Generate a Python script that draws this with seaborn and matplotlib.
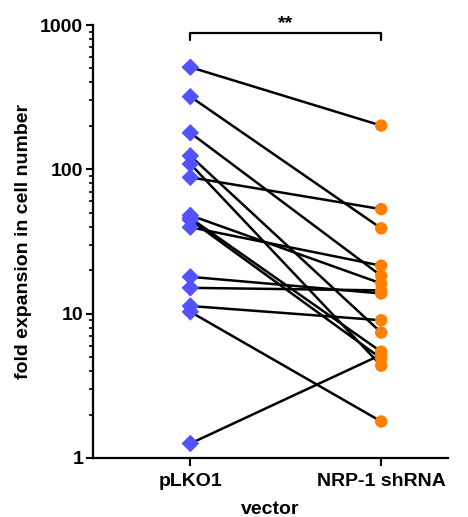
import numpy as np
import pandas as pd
import seaborn as sns
import matplotlib
matplotlib.use("Agg")
import matplotlib.pyplot as plt
from matplotlib.ticker import NullFormatter, LogLocator, FixedLocator, FixedFormatter

# paired values (fold expansion)
groups = ["pLKO1", "NRP-1 shRNA"]
plko1 = [510, 319, 179, 124, 109, 88, 48, 46, 44.6, 39.7, 18, 15.1, 11.3, 10.3, 1.26]
nrp1_shrna = [201, 39, 18.3, 7.4, 4.36, 53, 16.2, 5.45, 4.9, 21.5, 13.8, 14.5, 9.0, 1.79, 5.2]
y_ticks = [1, 10, 100, 1000]
y_labels = ["1", "10", "100", "1000"]

n = len(plko1)
df = pd.DataFrame({
    "pair": list(range(n)) * 2,
    "pos": [0] * n + [1] * n,
    "vector": [groups[0]] * n + [groups[1]] * n,
    "value": plko1 + nrp1_shrna,
})

sns.set_style("ticks")
plt.rcParams["font.family"] = ["Liberation Sans", "DejaVu Sans"]
plt.rcParams["font.weight"] = "bold"
plt.rcParams["text.color"] = "black"
plt.rcParams["axes.labelcolor"] = "black"
plt.rcParams["xtick.color"] = "black"
plt.rcParams["ytick.color"] = "black"

fig = plt.figure(figsize=(4.68, 5.17), dpi=100)
ax = fig.add_axes([93 / 468, 59 / 517, (448 - 93) / 468, (458 - 25) / 517])

# connecting lines for each pair
sns.lineplot(data=df, x="pos", y="value", units="pair", estimator=None,
             color="black", linewidth=1.8, ax=ax, zorder=2, legend=False)

# markers
sns.scatterplot(data=df, x="pos", y="value", hue="vector", style="vector",
                palette={groups[0]: "#5252FF", groups[1]: "#FF8000"},
                markers={groups[0]: "D", groups[1]: "o"},
                s=80, linewidth=0, ax=ax, zorder=3, legend=False)

ax.set_yscale("log")
ax.set_ylim(1, 1000)
ax.set_xlim(-0.51, 1.35)
ax.yaxis.set_major_locator(FixedLocator(y_ticks))
ax.yaxis.set_major_formatter(FixedFormatter(y_labels))
ax.yaxis.set_minor_locator(LogLocator(base=10, subs=np.arange(2, 10)))
ax.yaxis.set_minor_formatter(NullFormatter())
ax.set_xticks([0, 1])
ax.set_xticklabels(groups)

for s in ["top", "right"]:
    ax.spines[s].set_visible(False)
for s in ["left", "bottom"]:
    ax.spines[s].set_linewidth(1.6)
    ax.spines[s].set_color("black")

ax.tick_params(axis="y", which="major", length=5, width=1.5, labelsize=14, pad=2)
ax.tick_params(axis="y", which="minor", length=3, width=1.2)
ax.tick_params(axis="x", which="major", length=6, width=1.5, labelsize=14, pad=5)
for lab in ax.get_xticklabels() + ax.get_yticklabels():
    lab.set_fontweight("bold")
    lab.set_color("black")

ax.set_xlabel("vector", fontsize=14, fontweight="bold", labelpad=8, color="black")
ax.set_ylabel("fold expansion in cell number", fontsize=14, fontweight="bold",
              labelpad=6, color="black")

# significance bracket
ax.plot([0, 0, 1, 1], [790, 880, 880, 790], color="black", linewidth=1.6,
        clip_on=False, zorder=4)
ax.text(0.5, 1030, "**", ha="center", va="center", fontsize=14,
        fontweight="bold", color="black", clip_on=False)

fig.savefig("out.png", dpi=100)
